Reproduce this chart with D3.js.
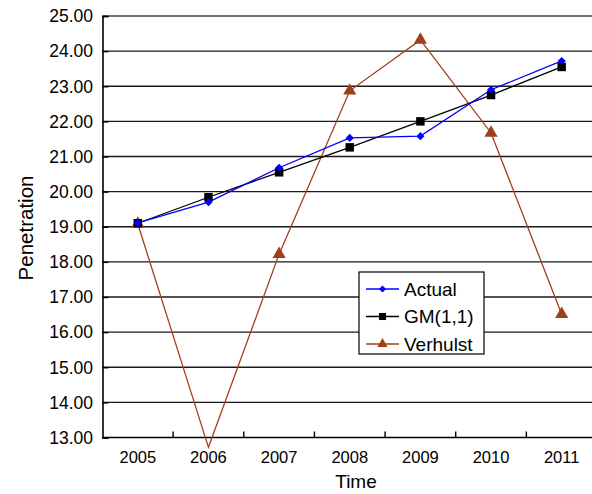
<!DOCTYPE html>
<html><head><meta charset="utf-8">
<script src="https://cdn.jsdelivr.net/npm/d3@7/dist/d3.min.js"></script>
<style>
body{margin:0;background:#fff;}
svg{display:block;font-family:"Liberation Sans",Arial,Helvetica,sans-serif;}
</style></head>
<body>
<svg id="c" width="592" height="494"></svg>
<script>
const years = ["2005","2006","2007","2008","2009","2010","2011"];
const actual = [19.11, 19.70, 20.68, 21.53, 21.58, 22.90, 23.72];
const gm11 = [19.10, 19.84, 20.55, 21.26, 22.00, 22.75, 23.55];
const verhulst = [19.08, 12.72, 18.22, 22.87, 24.32, 21.67, 16.51];
const yTicks = [13,14,15,16,17,18,19,20,21,22,23,24,25];
const seriesNames = ["Actual","GM(1,1)","Verhulst"];

const svg = d3.select("#c");
const L = 102.5, R = 597, T = 16, B = 437.5;
const x = d3.scaleBand().domain(years).range([L, R]);
const y = d3.scaleLinear().domain([13, 25]).range([B, T]);

// gridlines
svg.append("g").selectAll("line").data(yTicks.slice(1)).join("line")
  .attr("x1", L).attr("x2", R).attr("y1", d => y(d)).attr("y2", d => y(d))
  .attr("stroke", d => d === 25 ? "#444" : "#1a1a1a").attr("stroke-width", 1.4);

// y axis
const ya = svg.append("g").attr("transform", `translate(${L},0)`)
  .call(d3.axisRight(y).tickValues(yTicks).tickSize(6).tickFormat(""));
ya.select(".domain").attr("stroke", "#000").attr("stroke-width", 1.6);
ya.selectAll(".tick line").attr("stroke", "#000").attr("stroke-width", 1.4);
svg.append("g").selectAll("text").data(yTicks).join("text")
  .attr("x", 93).attr("y", d => y(d)).attr("dy", "0.36em")
  .attr("text-anchor", "end").attr("font-size", 17.5).attr("fill", "#000")
  .text(d => d.toFixed(2));

// x axis
svg.append("line").attr("x1", L).attr("x2", R).attr("y1", B).attr("y2", B)
  .attr("stroke", "#000").attr("stroke-width", 1.6);
svg.append("g").selectAll("line").data(years.slice(1)).join("line")
  .attr("x1", d => x(d)).attr("x2", d => x(d)).attr("y1", B).attr("y2", B - 6)
  .attr("stroke", "#000").attr("stroke-width", 1.4);
svg.append("g").selectAll("text").data(years).join("text")
  .attr("x", d => x(d) + x.bandwidth() / 2).attr("y", 462.5)
  .attr("text-anchor", "middle").attr("font-size", 16.5).attr("fill", "#000")
  .text(d => d);

// axis titles
svg.append("text").attr("x", 356).attr("y", 488).attr("text-anchor", "middle")
  .attr("font-size", 19).text("Time");
svg.append("text").attr("transform", "translate(33,228) rotate(-90)")
  .attr("text-anchor", "middle").attr("font-size", 20.5).text("Penetration");

const cx = d => x(d) + x.bandwidth() / 2;
const line = d3.line().x(d => cx(d.year)).y(d => y(d.v));
const colors = ["#0000ff", "#000000", "#a0401a"];
const data = [actual, gm11, verhulst].map(arr => arr.map((v, i) => ({year: years[i], v})));

const diamond = d3.symbol().type(d3.symbolDiamond2).size(42);
const square = d3.symbol().type(d3.symbolSquare).size(72);
const tri = d3.symbol().type(d3.symbolTriangle).size(75);
const syms = [diamond, square, tri];

// draw Verhulst first, then GM, then Actual
[2, 1, 0].forEach(k => {
  svg.append("path").datum(data[k]).attr("d", line)
    .attr("fill", "none").attr("stroke", colors[k]).attr("stroke-width", 1.3);
});
[2, 1, 0].forEach(k => {
  svg.append("g").selectAll("path").data(data[k].filter(d => d.v >= 13 && d.v <= 25)).join("path")
    .attr("transform", d => `translate(${cx(d.year)},${y(d.v)})`)
    .attr("d", syms[k]()).attr("fill", colors[k]);
});

// legend
const lg = svg.append("g");
lg.append("rect").attr("x", 359).attr("y", 272).attr("width", 125).attr("height", 82)
  .attr("fill", "#fff").attr("stroke", "#000").attr("stroke-width", 1.2);
seriesNames.forEach((n, k) => {
  const ly = 289 + k * 27.5;
  lg.append("line").attr("x1", 366).attr("x2", 399).attr("y1", ly).attr("y2", ly)
    .attr("stroke", colors[k]).attr("stroke-width", 1.3);
  lg.append("path").attr("transform", `translate(382.5,${ly})`)
    .attr("d", d3.symbol().type([d3.symbolDiamond2, d3.symbolSquare, d3.symbolTriangle][k]).size(k === 1 ? 50 : (k === 0 ? 32 : 45))())
    .attr("fill", colors[k]);
  lg.append("text").attr("x", 404).attr("y", ly + 6.5).attr("font-size", 19).text(n);
});
</script>
</body></html>
